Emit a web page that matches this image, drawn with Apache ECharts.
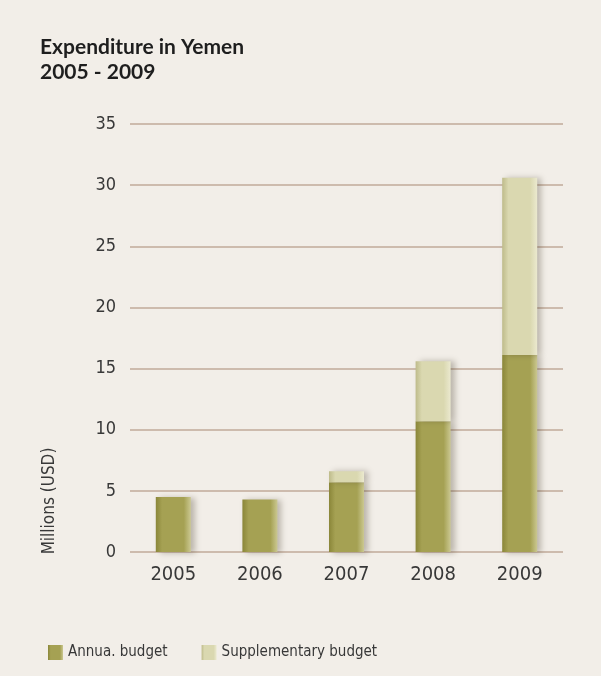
<!DOCTYPE html>
<html>
<head>
<meta charset="utf-8">
<script src="https://cdn.jsdelivr.net/npm/echarts@6/dist/echarts.min.js"></script>
<style>
  html, body { margin: 0; padding: 0; background: #f2eee8; }
  #main { width: 601px; height: 676px; }
</style>
</head>
<body>
<div id="main"></div>
<script>
const years = ['2005', '2006', '2007', '2008', '2009']
const annual = [4.5, 4.3, 5.7, 10.7, 16.1]
const supplementary = [0, 0, 0.9, 4.9, 14.5]
const yTicks = [0, 5, 10, 15, 20, 25, 30, 35]

const narrow = "'DejaVu Sans Condensed', 'DejaVu Sans', sans-serif"
const ink = '#383838'

let myChart = echarts.init(document.getElementById('main'))

function barFill(dark, mid, light) {
  return new echarts.graphic.LinearGradient(0, 0, 1, 0, [
    { offset: 0, color: dark },
    { offset: 0.18, color: mid },
    { offset: 0.8, color: mid },
    { offset: 1, color: light }
  ])
}

myChart.setOption({
  backgroundColor: '#f2eee8',
  animation: false,
  title: {
    text: 'Expenditure in Yemen\n2005 - 2009',
    left: 35,
    top: 30,
    textStyle: {
      fontFamily: 'Lato, sans-serif',
      fontWeight: 'bold',
      fontSize: 21,
      lineHeight: 25,
      color: '#1e1e1e'
    }
  },
  legend: {
    left: 43,
    top: 640,
    icon: 'rect',
    itemWidth: 15,
    itemHeight: 15,
    itemGap: 34,
    textStyle: { fontFamily: narrow, fontSize: 15, color: ink },
    data: ['Annua. budget', 'Supplementary budget']
  },
  grid: { left: 130, right: 38, top: 124, bottom: 124 },
  xAxis: {
    type: 'category',
    data: years,
    axisLine: { show: false },
    axisTick: { show: false },
    axisLabel: { margin: 13, fontFamily: narrow, fontSize: 20, color: ink }
  },
  yAxis: {
    type: 'value',
    min: yTicks[0],
    max: yTicks[yTicks.length - 1],
    interval: 5,
    axisLine: { show: false },
    axisTick: { show: false },
    axisLabel: { margin: 14, fontFamily: narrow, fontSize: 18, color: ink },
    splitLine: { lineStyle: { color: '#cdbbad', width: 2 } }
  },
  graphic: [{
    type: 'text',
    x: 50,
    y: 501,
    rotation: Math.PI / 2,
    style: {
      text: 'Millions (USD)',
      x: 0,
      y: 0,
      align: 'center',
      verticalAlign: 'middle',
      font: "17px " + narrow,
      fill: ink
    }
  }],
  series: [
    {
      name: 'Annua. budget',
      type: 'bar',
      stack: 'total',
      barWidth: 35,
      data: annual,
      color: '#a09c4e',
      itemStyle: {
        color: barFill('#8a8639', '#a5a153', '#cbc891'),
        shadowColor: 'rgba(60,50,30,0.3)',
        shadowBlur: 6,
        shadowOffsetX: 4,
        shadowOffsetY: 1
      }
    },
    {
      name: 'Supplementary budget',
      type: 'bar',
      stack: 'total',
      barWidth: 35,
      data: supplementary,
      color: '#d9d7ae',
      itemStyle: {
        color: barFill('#bebb8a', '#dad8b0', '#ebe9cf'),
        shadowColor: 'rgba(60,50,30,0.3)',
        shadowBlur: 6,
        shadowOffsetX: 4,
        shadowOffsetY: 0
      }
    }
  ]
})
</script>
</body>
</html>
